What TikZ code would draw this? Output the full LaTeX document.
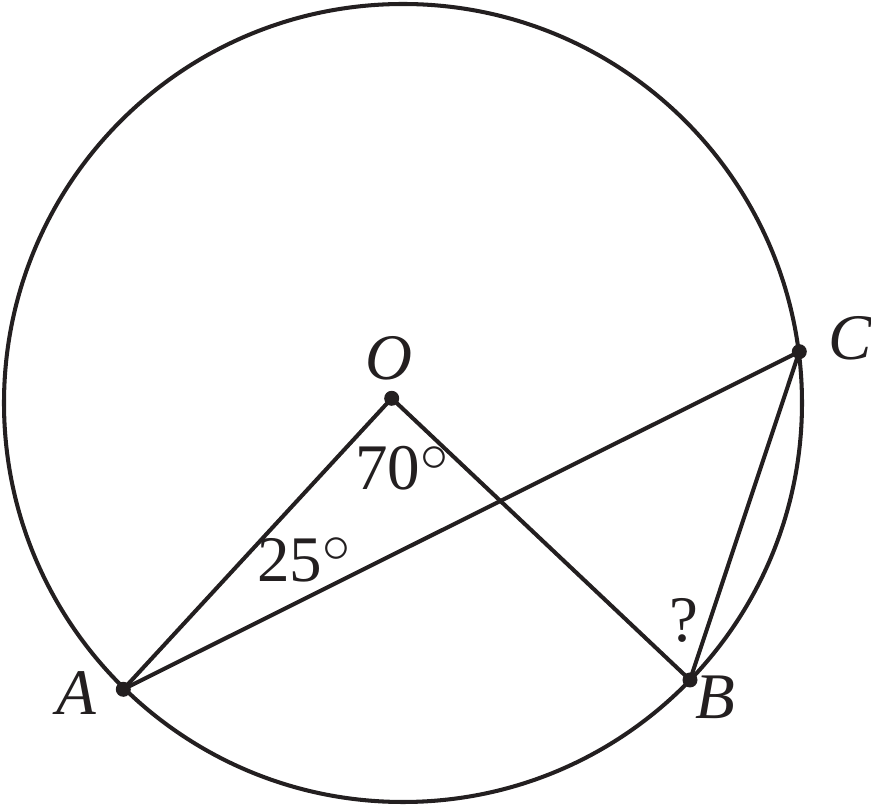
\documentclass[tikz,border=0pt]{standalone}
\usepackage{fontspec}
\setmainfont{Liberation Serif}
\usetikzlibrary{calc}
\definecolor{ink}{HTML}{231F20}
\newcommand{\degsign}{\raisebox{5.2pt}{\scalebox{0.92}{$\circ$}}}
\tikzset{
  dot/.style={fill=ink},
  lbl/.style={font=\fontsize{18.5}{22}\selectfont, inner sep=0pt, text=ink}
}

\begin{document}
\begin{tikzpicture}[line width=1.15pt, draw=ink]
			%%%%% START %%%%%
			\useasboundingbox (0, 0) rectangle (8.71, 8.05);
			
			\draw (4.03, 4.02) circle (3.99);
			
			\coordinate (O) at (3.917, 4.067);
			\coordinate (A) at (1.233, 1.157);
			\coordinate (B) at (6.900, 1.250);
			\coordinate (C) at (7.993, 4.533);
			
			\draw (A) -- (O) -- (B);
			\draw (A) -- (C) -- (B);
			
			\fill[dot] (O) circle (0.075);
			\fill[dot] (A) circle (0.075);
			\fill[dot] (B) circle (0.075);
			\fill[dot] (C) circle (0.075);
			
			\node[lbl] (labO) at (3.89, 4.47) {\itshape O};
			\node[lbl] (labA) at (0.76, 1.12) {\itshape A};
			\node[lbl] (labB) at (7.15, 1.08) {\itshape B};
			\node[lbl] (labC) at (8.50, 4.67) {\itshape C};
			
			\node[lbl, anchor=west] (ang70) at (3.53, 3.37) {70\degsign};
			\node[lbl, anchor=west] (ang25) at (2.55, 2.45) {25\degsign};
			\node[lbl] (angB) at (6.84, 1.85) {?};
			%%%%% END %%%%%
		\end{tikzpicture}
\end{document}
